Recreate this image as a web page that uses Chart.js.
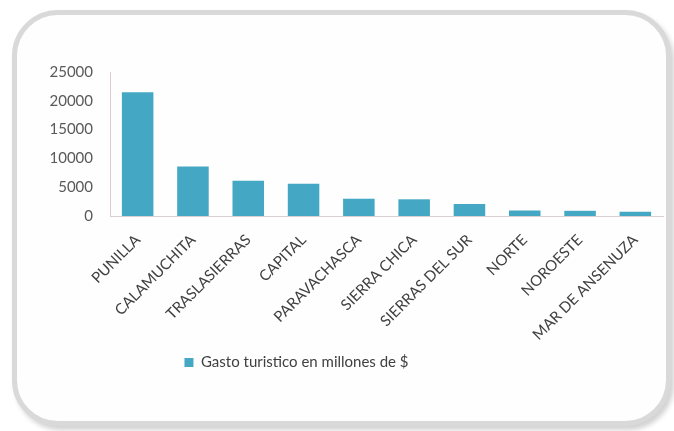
<!DOCTYPE html>
<html>
<head>
<meta charset="utf-8">
<script src="https://cdn.jsdelivr.net/npm/chart.js"></script>
<style>
  html, body { margin: 0; padding: 0; background: #fff; }
  #wrap { position: relative; width: 674px; height: 431px; overflow: hidden; }
  #frame {
    position: absolute; left: 12px; top: 10px; width: 649px; height: 406px;
    border: 5px solid #d9d9d9; border-radius: 46px; background: #fefefe;
    box-shadow: 3px 4px 5px rgba(0,0,0,0.18);
  }
  #chart { position: absolute; left: 0; top: 0; }
</style>
</head>
<body>
<div id="wrap">
  <div id="frame"></div>
  <canvas id="chart" width="674" height="431"></canvas>
</div>
<script>
// Gasto turistico por region (millones de $)
const regions = ['PUNILLA', 'CALAMUCHITA', 'TRASLASIERRAS', 'CAPITAL', 'PARAVACHASCA',
                 'SIERRA CHICA', 'SIERRAS DEL SUR', 'NORTE', 'NOROESTE', 'MAR DE ANSENUZA'];
const gasto = [21500, 8600, 6100, 5600, 3000, 2900, 2100, 950, 900, 750];
const seriesName = 'Gasto turistico en millones de $';
const yTicks = [0, 5000, 10000, 15000, 20000, 25000];

const FONT = 'Lato, "Open Sans", sans-serif';
const X_AXIS_HEIGHT = 129;   // space for the rotated labels
const Y_AXIS_WIDTH = 64;
const LEGEND_SHIFT = -58;    // legend sits left of centre in the original

// nudge the legend horizontally after layout
const legendShift = {
    id: 'legendShift',
    afterLayout(chart) {
        if (chart.legend) {
            chart.legend.left += LEGEND_SHIFT;
            chart.legend.right += LEGEND_SHIFT;
        }
    }
};

new Chart(document.getElementById('chart'), {
    type: 'bar',
    data: {
        labels: regions,
        datasets: [{
            label: seriesName,
            data: gasto,
            backgroundColor: '#44a8c4',
            borderWidth: 0,
            barPercentage: 0.57,
            categoryPercentage: 1.0
        }]
    },
    options: {
        responsive: false,
        animation: false,
        devicePixelRatio: 1,
        layout: { padding: { left: 46, right: 11, top: 72, bottom: 51 } },
        plugins: {
            legend: {
                position: 'bottom',
                labels: {
                    boxWidth: 9, boxHeight: 9, padding: 10,
                    color: '#404040',
                    font: { family: FONT, size: 15 }
                }
            },
            tooltip: { enabled: false }
        },
        scales: {
            x: {
                grid: { display: false, drawTicks: false },
                border: { color: '#dccfcf', width: 1 },
                afterFit: (scale) => { scale.height = X_AXIS_HEIGHT; },
                ticks: {
                    minRotation: 45, maxRotation: 45, padding: 15,
                    color: '#404040',
                    font: { family: FONT, size: 15 }
                }
            },
            y: {
                min: 0, max: 25000,
                afterBuildTicks: (scale) => { scale.ticks = yTicks.map(v => ({ value: v })); },
                afterFit: (scale) => { scale.width = Y_AXIS_WIDTH; },
                grid: { display: false, drawTicks: false },
                border: { color: '#dccfcf', width: 1 },
                ticks: {
                    padding: 17,
                    color: '#595959',
                    font: { family: FONT, size: 15 },
                    callback: (v) => String(v)
                }
            }
        }
    },
    plugins: [legendShift]
});
</script>
</body>
</html>
